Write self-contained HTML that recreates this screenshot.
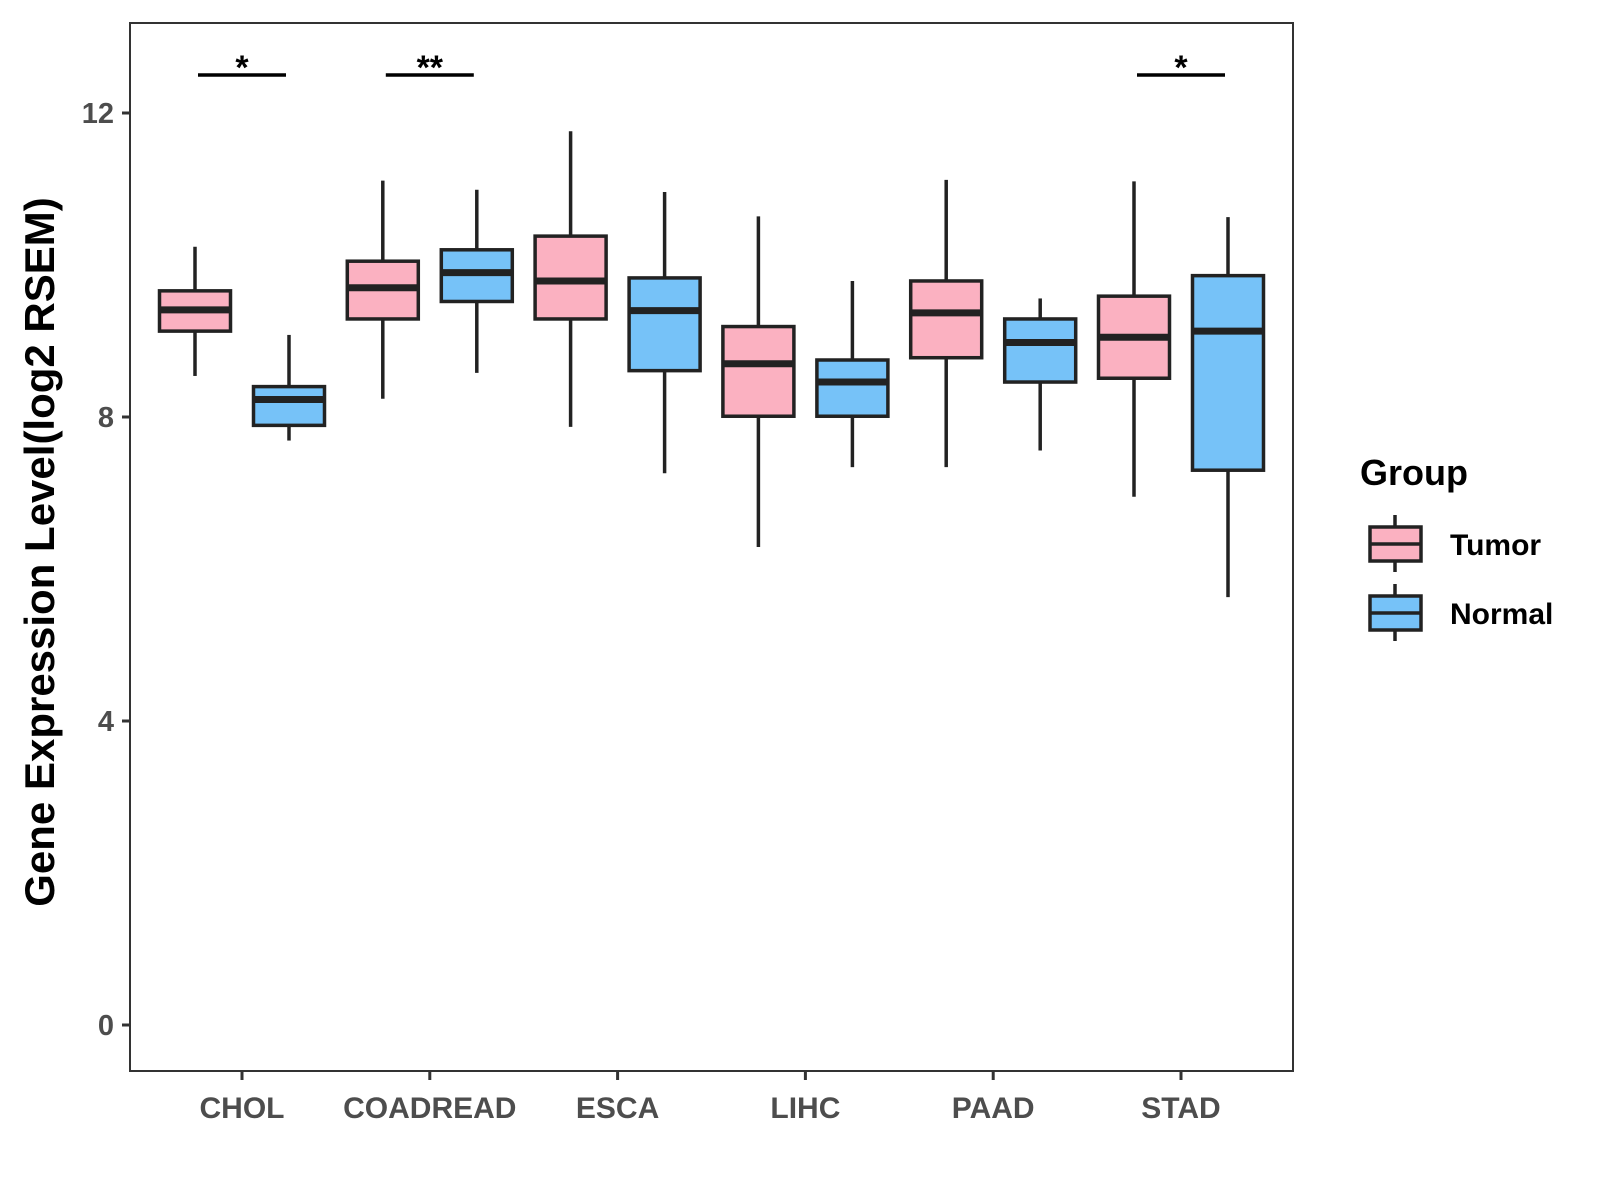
<!DOCTYPE html>
<html><head><meta charset="utf-8"><style>
html,body{margin:0;padding:0;background:#fff;}
svg{display:block;font-family:"Liberation Sans",Arial,sans-serif;}
</style></head><body>
<svg id="chart" width="1600" height="1200" viewBox="0 0 1600 1200">
<rect x="0" y="0" width="1600" height="1200" fill="#fff"/>
<g id="panel"></g>
<text transform="translate(54,552) rotate(-90)" text-anchor="middle" font-size="42" font-weight="bold" fill="#000">Gene Expression Level(log2 RSEM)</text>
<g>
<text x="1360" y="485" font-size="36" font-weight="bold">Group</text>
<g>
<line x1="1395" y1="515" x2="1395" y2="572" stroke="#222" stroke-width="3.5"/>
<rect x="1370" y="527" width="51" height="34" fill="#FBB1C1" stroke="#222" stroke-width="3.5"/>
<line x1="1370" y1="544" x2="1421" y2="544" stroke="#222" stroke-width="3.5"/>
<text x="1450" y="555" font-size="30" font-weight="bold">Tumor</text>
</g>
<g>
<line x1="1395" y1="584" x2="1395" y2="641" stroke="#222" stroke-width="3.5"/>
<rect x="1370" y="596" width="51" height="34" fill="#76C2F8" stroke="#222" stroke-width="3.5"/>
<line x1="1370" y1="613" x2="1421" y2="613" stroke="#222" stroke-width="3.5"/>
<text x="1450" y="624" font-size="30" font-weight="bold">Normal</text>
</g>
</g>
</svg>
<script>
const categories = ["CHOL","COADREAD","ESCA","LIHC","PAAD","STAD"];
const groups = ["Tumor","Normal"];
// [low whisker, Q1, median, Q3, high whisker]
const tumorStats = [
 [8.54,9.13,9.41,9.66,10.24],
 [8.24,9.29,9.70,10.05,11.11],
 [7.87,9.29,9.79,10.38,11.76],
 [6.29,8.01,8.70,9.19,10.64],
 [7.34,8.78,9.37,9.79,11.12],
 [6.95,8.51,9.05,9.59,11.10]
];
const normalStats = [
 [7.69,7.89,8.23,8.40,9.08],
 [8.58,9.52,9.90,10.20,10.99],
 [7.26,8.61,9.40,9.83,10.96],
 [7.34,8.01,8.46,8.75,9.79],
 [7.56,8.46,8.98,9.29,9.56],
 [5.63,7.30,9.13,9.86,10.63]
];
const yTicks = [0,4,8,12];
const sigLabels = ["*","**","","","","*"];
const sigLevel = 12.5;

const NS="http://www.w3.org/2000/svg";
const P={l:130,r:1293,t:23,b:1071};
function yS(v){return 1025-(v-0)*(1025-113)/12;}
function xS(i){return 242+i*187.8;}
const colors=["#FBB1C1","#76C2F8"];
const g=document.getElementById('panel');
function mk(tag,attrs,parent){const e=document.createElementNS(NS,tag);for(const k in attrs)e.setAttribute(k,attrs[k]);(parent||g).appendChild(e);return e;}

const frame=mk('rect',{x:P.l,y:P.t,width:P.r-P.l,height:P.b-P.t,fill:'none',stroke:'#333','stroke-width':2});



yTicks.forEach(t=>{
 const tk=mk('line',{x1:P.l-8,x2:P.l,y1:yS(t),y2:yS(t),stroke:'#333','stroke-width':3});
 
 
 const lb=mk('text',{x:P.l-16,y:yS(t)+10,'text-anchor':'end','font-size':29,'font-weight':'bold',fill:'#4d4d4d'});
 lb.textContent=t;
 
 
});
categories.forEach((c,i)=>{
 const tk=mk('line',{x1:xS(i),x2:xS(i),y1:P.b,y2:P.b+9,stroke:'#333','stroke-width':3});
 
 
 const lb=mk('text',{x:xS(i),y:P.b+47,'text-anchor':'middle','font-size':30,'font-weight':'bold',fill:'#4d4d4d'});
 lb.textContent=c;
 
 
});
const bw=71, off=47;
[tumorStats,normalStats].forEach((S,gi)=>{
 S.forEach((s,i)=>{
  const cx=xS(i)+(gi===0?-off:off);
  const bg=mk('g',{});
  
  
  mk('line',{x1:cx,x2:cx,y1:yS(s[4]),y2:yS(s[3]),stroke:'#222','stroke-width':3.5},bg);
  mk('line',{x1:cx,x2:cx,y1:yS(s[1]),y2:yS(s[0]),stroke:'#222','stroke-width':3.5},bg);
  mk('rect',{x:cx-bw/2,y:yS(s[3]),width:bw,height:yS(s[1])-yS(s[3]),fill:colors[gi],stroke:'#222','stroke-width':3.5},bg);
  mk('line',{x1:cx-bw/2,x2:cx+bw/2,y1:yS(s[2]),y2:yS(s[2]),stroke:'#222','stroke-width':7},bg);
 });
});
sigLabels.forEach((s,i)=>{
 if(!s)return;
 const sg=mk('g',{});
 
 
 mk('line',{x1:xS(i)-44,x2:xS(i)+44,y1:yS(sigLevel),y2:yS(sigLevel),stroke:'#000','stroke-width':3.5},sg);
 const t=mk('text',{x:xS(i),y:yS(sigLevel)+4,'text-anchor':'middle','font-size':34,'font-weight':'bold',fill:'#000'},sg);
 t.textContent=s;
});
</script>
</body></html>
